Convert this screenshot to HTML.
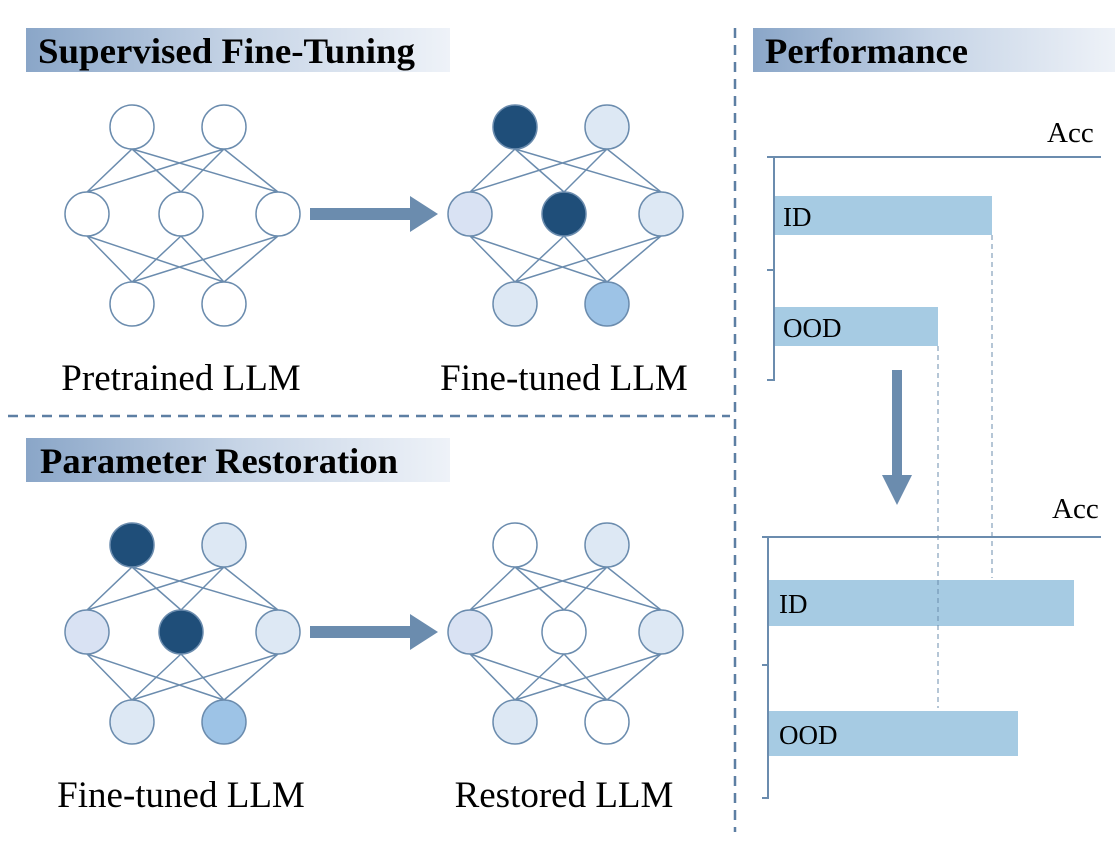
<!DOCTYPE html>
<html><head><meta charset="utf-8"><style>
html,body{margin:0;padding:0;background:#fff;}
svg{display:block;}
text{font-family:"Liberation Serif",serif;}
</style></head><body>
<svg width="1119" height="858" viewBox="0 0 1119 858" xmlns="http://www.w3.org/2000/svg">
<defs>
<linearGradient id="g" x1="0" x2="1" y1="0" y2="0">
<stop offset="0" stop-color="#8aa6c8"/><stop offset="0.5" stop-color="#c6d4e6"/><stop offset="1" stop-color="#eef2f8"/>
</linearGradient>
</defs>
<rect x="26" y="28" width="424" height="44" fill="url(#g)"/>
<text x="38" y="63" font-size="36" font-weight="bold" textLength="377" lengthAdjust="spacingAndGlyphs">Supervised Fine-Tuning</text>
<rect x="26" y="438" width="424" height="44" fill="url(#g)"/>
<text x="40" y="473" font-size="36" font-weight="bold" textLength="358" lengthAdjust="spacingAndGlyphs">Parameter Restoration</text>
<rect x="753" y="28" width="362" height="44" fill="url(#g)"/>
<text x="765" y="63" font-size="36" font-weight="bold" textLength="203" lengthAdjust="spacingAndGlyphs">Performance</text>

<line x1="8" y1="416" x2="730" y2="416" stroke="#5d7fa3" stroke-width="2.5" stroke-dasharray="10,7"/>
<line x1="735" y1="28" x2="735" y2="832" stroke="#5d7fa3" stroke-width="2.5" stroke-dasharray="10,7"/>

<g stroke="#6b8cae" stroke-width="1.5" fill="none">
<path d="M132 149L87 192M132 149L181 192M132 149L278 192M224 149L87 192M224 149L181 192M224 149L278 192M132 282L87 236M132 282L181 236M132 282L278 236M224 282L87 236M224 282L181 236M224 282L278 236"/>
<g transform="translate(383,0)"><path d="M132 149L87 192M132 149L181 192M132 149L278 192M224 149L87 192M224 149L181 192M224 149L278 192M132 282L87 236M132 282L181 236M132 282L278 236M224 282L87 236M224 282L181 236M224 282L278 236"/></g>
<g transform="translate(0,418)"><path d="M132 149L87 192M132 149L181 192M132 149L278 192M224 149L87 192M224 149L181 192M224 149L278 192M132 282L87 236M132 282L181 236M132 282L278 236M224 282L87 236M224 282L181 236M224 282L278 236"/></g>
<g transform="translate(383,418)"><path d="M132 149L87 192M132 149L181 192M132 149L278 192M224 149L87 192M224 149L181 192M224 149L278 192M132 282L87 236M132 282L181 236M132 282L278 236M224 282L87 236M224 282L181 236M224 282L278 236"/></g>
</g>
<g stroke="#6b8cae" stroke-width="1.5">
<circle cx="132" cy="127" r="22" fill="#fff"/><circle cx="224" cy="127" r="22" fill="#fff"/>
<circle cx="87" cy="214" r="22" fill="#fff"/><circle cx="181" cy="214" r="22" fill="#fff"/><circle cx="278" cy="214" r="22" fill="#fff"/>
<circle cx="132" cy="304" r="22" fill="#fff"/><circle cx="224" cy="304" r="22" fill="#fff"/>
<circle cx="515" cy="127" r="22" fill="#1f4e79"/><circle cx="607" cy="127" r="22" fill="#dde8f4"/>
<circle cx="470" cy="214" r="22" fill="#d9e2f3"/><circle cx="564" cy="214" r="22" fill="#1f4e79"/><circle cx="661" cy="214" r="22" fill="#dde8f4"/>
<circle cx="515" cy="304" r="22" fill="#dde8f4"/><circle cx="607" cy="304" r="22" fill="#9dc3e6"/>
<circle cx="132" cy="545" r="22" fill="#1f4e79"/><circle cx="224" cy="545" r="22" fill="#dde8f4"/>
<circle cx="87" cy="632" r="22" fill="#d9e2f3"/><circle cx="181" cy="632" r="22" fill="#1f4e79"/><circle cx="278" cy="632" r="22" fill="#dde8f4"/>
<circle cx="132" cy="722" r="22" fill="#dde8f4"/><circle cx="224" cy="722" r="22" fill="#9dc3e6"/>
<circle cx="515" cy="545" r="22" fill="#fff"/><circle cx="607" cy="545" r="22" fill="#dde8f4"/>
<circle cx="470" cy="632" r="22" fill="#d9e2f3"/><circle cx="564" cy="632" r="22" fill="#fff"/><circle cx="661" cy="632" r="22" fill="#dde8f4"/>
<circle cx="515" cy="722" r="22" fill="#dde8f4"/><circle cx="607" cy="722" r="22" fill="#fff"/>
</g>
<path d="M310 208H410V196L438 214L410 232V220H310Z" fill="#6b8cae"/>
<path d="M310 626H410V614L438 632L410 650V638H310Z" fill="#6b8cae"/>
<path d="M892 370H902V475H912L897 505L882 475H892Z" fill="#6b8cae"/>

<g font-size="37" text-anchor="middle">
<text x="181" y="390">Pretrained LLM</text>
<text x="564" y="390">Fine-tuned LLM</text>
<text x="181" y="807">Fine-tuned LLM</text>
<text x="564" y="807">Restored LLM</text>
</g>

<rect x="775" y="196" width="217" height="39" fill="#a6cbe3"/>
<rect x="775" y="307" width="163" height="39" fill="#a6cbe3"/>
<g stroke="#6b8cae" stroke-width="2" fill="none">
<line x1="767" y1="157" x2="1101" y2="157"/>
<path d="M767 157H774V380H767M767 270H774"/>
<line x1="762" y1="537" x2="1101" y2="537"/>
<path d="M762 537H768V798H762M762 665H768"/>
</g>
<rect x="769" y="580" width="305" height="46" fill="#a6cbe3"/>
<rect x="769" y="711" width="249" height="45" fill="#a6cbe3"/>
<g stroke="#6b8cae" stroke-width="1" stroke-dasharray="5,4">
<line x1="992" y1="235" x2="992" y2="578"/>
<line x1="938" y1="346" x2="938" y2="708"/>
</g>
<g font-size="29">
<text x="1047" y="142">Acc</text>
<text x="1052" y="518">Acc</text>
</g>
<g font-size="27">
<text x="783" y="226">ID</text>
<text x="783" y="337">OOD</text>
<text x="779" y="613">ID</text>
<text x="779" y="744">OOD</text>
</g>
</svg>
</body></html>
